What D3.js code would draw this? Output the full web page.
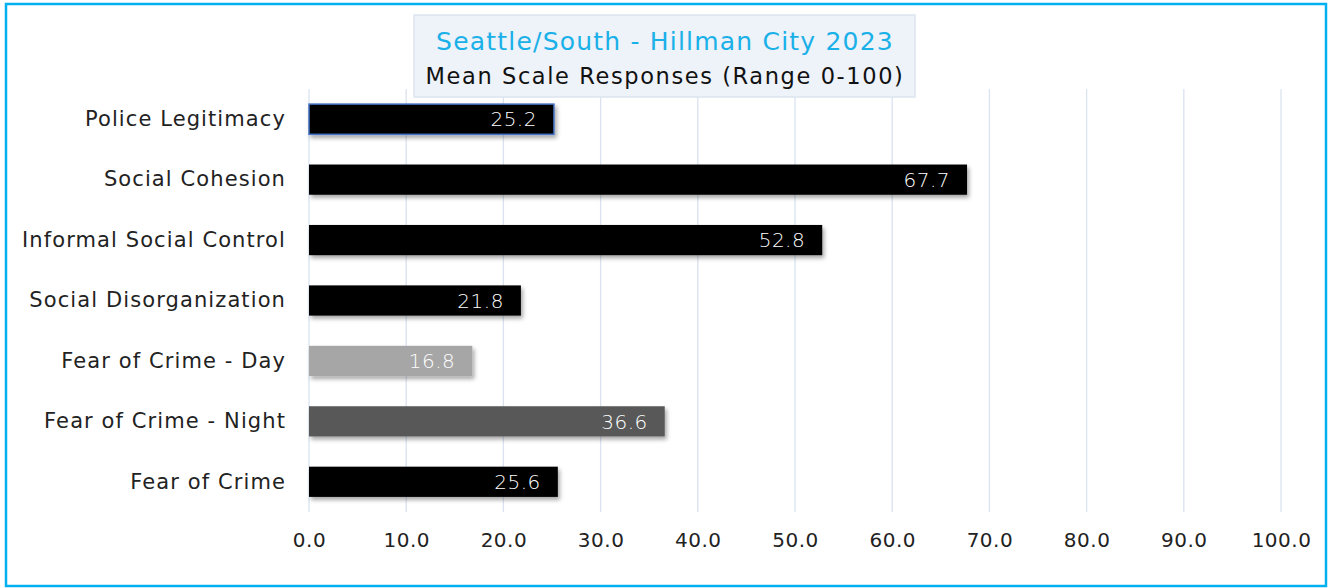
<!DOCTYPE html>
<html><head><meta charset="utf-8">
<script src="https://cdn.jsdelivr.net/npm/d3@7"></script>
<style>
html,body{margin:0;padding:0;background:#fff;}
svg{display:block;font-family:"DejaVu Sans",sans-serif;}
</style></head>
<body>
<svg id="chart" width="1328" height="588"></svg>
<script>
const categories = ["Police Legitimacy","Social Cohesion","Informal Social Control","Social Disorganization","Fear of Crime - Day","Fear of Crime - Night","Fear of Crime"];
const values = [25.2, 67.7, 52.8, 21.8, 16.8, 36.6, 25.6];
const barColors = ["#000000","#000000","#000000","#000000","#a6a6a6","#595959","#000000"];
const tickValues = [0,10,20,30,40,50,60,70,80,90,100];
const titleLine1 = "Seattle/South - Hillman City 2023";
const titleLine2 = "Mean Scale Responses (Range 0-100)";

const svg = d3.select("#chart");
const defs = svg.append("defs");
const f = defs.append("filter").attr("id","shadow").attr("x","-10%").attr("y","-30%").attr("width","130%").attr("height","180%");
f.append("feDropShadow").attr("dx",2).attr("dy",3).attr("stdDeviation",2).attr("flood-color","#000").attr("flood-opacity",0.35);

// frame
svg.append("rect").attr("x",6).attr("y",4).attr("width",1320).attr("height",582)
  .attr("fill","#fff").attr("stroke","#00b0f0").attr("stroke-width",2.5);

const x = d3.scaleLinear().domain([0,100]).range([309,1281]);
const y = d3.scaleBand().domain(categories).range([89,512]).paddingInner(0.5).paddingOuter(0.25);

// gridlines
svg.append("g").selectAll("line").data(tickValues).join("line")
  .attr("x1",d=>x(d)).attr("x2",d=>x(d)).attr("y1",89).attr("y2",512)
  .attr("stroke","#d9e3f0").attr("stroke-width",1.3);

// x axis labels
const xAxis = d3.axisBottom(x).tickValues(tickValues).tickFormat(d3.format(".1f")).tickSize(0).tickPadding(0);
const gx = svg.append("g").attr("transform","translate(0,533)").call(xAxis);
gx.select(".domain").remove();
gx.selectAll("text").attr("font-size",20).attr("letter-spacing",0.5).attr("fill","#222").attr("font-family","DejaVu Sans, sans-serif");

// y axis labels
const yAxis = d3.axisLeft(y).tickSize(0).tickPadding(0);
const gy = svg.append("g").attr("transform","translate(286,0)").call(yAxis);
gy.select(".domain").remove();
gy.selectAll("text").attr("font-size",21).attr("letter-spacing",1.1).attr("fill","#222").attr("font-family","DejaVu Sans, sans-serif");

// bars
svg.append("g").selectAll("rect").data(categories).join("rect")
  .attr("x",x(0)).attr("y",d=>y(d)).attr("width",(d,i)=>x(values[i])-x(0)).attr("height",y.bandwidth())
  .attr("fill",(d,i)=>barColors[i]).attr("filter","url(#shadow)")
  .attr("stroke",(d,i)=>i===0?"#4472c4":"none").attr("stroke-width",1.5);

// value labels
svg.append("g").selectAll("text").data(categories).join("text")
  .attr("x",(d,i)=>x(values[i])-17).attr("y",d=>y(d)+y.bandwidth()/2)
  .attr("dy","0.36em").attr("text-anchor","end").attr("fill","#fff")
  .attr("font-size",20).attr("letter-spacing",0.5).attr("font-weight",300)
  .text((d,i)=>values[i].toFixed(1));

// title box
svg.append("rect").attr("x",414).attr("y",15).attr("width",501).attr("height",82)
  .attr("fill","#eef2f9").attr("stroke","#dde5ef").attr("stroke-width",1.5);
svg.append("text").attr("x",665).attr("y",50).attr("text-anchor","middle")
  .attr("font-size",25).attr("letter-spacing",1.2).attr("fill","#1ab0e8").text(titleLine1);
svg.append("text").attr("x",665).attr("y",84).attr("text-anchor","middle")
  .attr("font-size",22.5).attr("letter-spacing",1.6).attr("fill","#111").text(titleLine2);
</script>
</body></html>
